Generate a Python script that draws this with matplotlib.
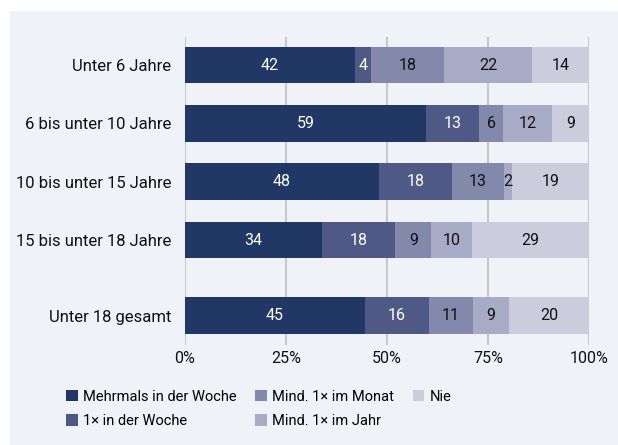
import numpy as np
import matplotlib
matplotlib.use("Agg")
import matplotlib.pyplot as plt
from matplotlib.patches import Rectangle, Patch

plt.rcParams['font.family'] = ['Roboto', 'DejaVu Sans']

# data
categories = ["Unter 6 Jahre", "6 bis unter 10 Jahre", "10 bis unter 15 Jahre",
              "15 bis unter 18 Jahre", "Unter 18 gesamt"]
series = ["Mehrmals in der Woche", "1× in der Woche", "Mind. 1× im Monat",
          "Mind. 1× im Jahr", "Nie"]
mehrmals = [42, 59, 48, 34, 45]
einmal_woche = [4, 13, 18, 18, 16]
monat = [18, 6, 13, 9, 11]
jahr = [22, 12, 2, 10, 9]
nie = [14, 9, 19, 29, 20]

colors = ["#213766", "#4e5a85", "#8289aa", "#a8abc6", "#cbcddd"]
text_colors = ["white", "white", "#111111", "#111111", "#111111"]
bg = "#eff2f7"

values = np.array([mehrmals, einmal_woche, monat, jahr, nie], dtype=float)
shares = values / values.sum(axis=0) * 100  # Balken auf 100 % normiert
ypos = np.array([0, 1, 2, 3, 4.3])

fig = plt.figure(figsize=(6.18, 4.45), dpi=100)
fig.patches.append(Rectangle((10 / 618, 0), 1 - 10 / 618, 1 - 11 / 445,
                             transform=fig.transFigure, facecolor=bg,
                             edgecolor="none", zorder=-10))
ax = fig.add_axes([185 / 618, 1 - 345 / 445, 404 / 618, 308 / 445])
ax.set_facecolor("none")

left = np.zeros(len(categories))
for i in range(len(series)):
    ax.barh(ypos, shares[i], left=left, height=0.63, color=colors[i],
            label=series[i], zorder=3)
    for j in range(len(categories)):
        ax.text(left[j] + shares[i][j] / 2, ypos[j], "%d" % values[i][j],
                ha="center", va="center", color=text_colors[i],
                fontsize=11.5, zorder=4)
    left += shares[i]

ax.set_xlim(0, 100)
ax.set_ylim(4.8, -0.48)
ax.set_xticks([0, 25, 50, 75, 100])
ax.set_xticklabels(["0%", "25%", "50%", "75%", "100%"], fontsize=11.5)
ax.set_yticks(ypos)
ax.set_yticklabels(categories, fontsize=12)
ax.tick_params(axis="both", length=0, colors="#111111")
ax.tick_params(axis="y", pad=10)
ax.tick_params(axis="x", pad=4)
ax.grid(axis="x", color="#c8c8c8", linewidth=1.5, zorder=1)
for s in ax.spines.values():
    s.set_visible(False)

handles = [Patch(facecolor=c, edgecolor="none") for c in colors]
fig.legend(handles, series, loc="upper left", bbox_to_anchor=(60 / 618, 1 - 384 / 445),
           ncol=3, frameon=False, fontsize=10.5, handlelength=0.8, handleheight=0.8,
           handletextpad=0.35, columnspacing=1.3, labelspacing=0.7, borderaxespad=0)

fig.savefig("out.png", dpi=100, facecolor="white")
